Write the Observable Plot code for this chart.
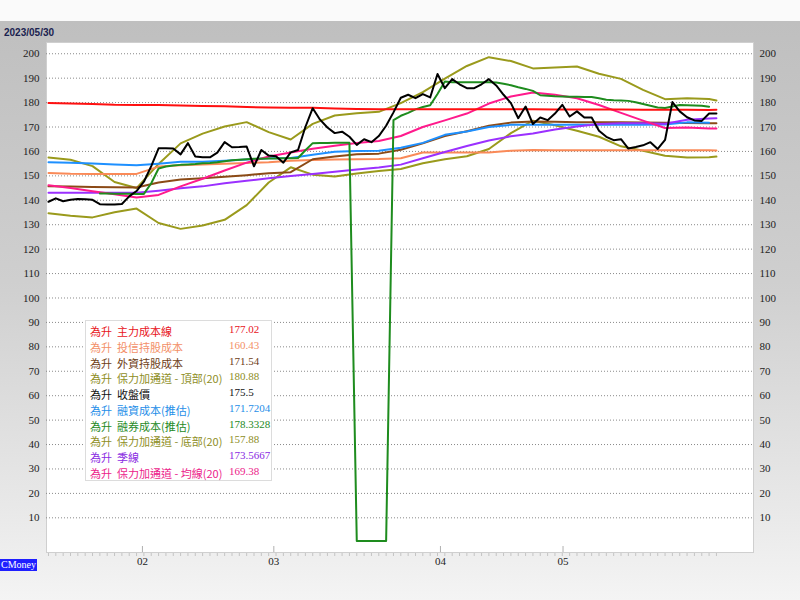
<!DOCTYPE html>
<html><head><meta charset="utf-8">
<script src="https://cdn.jsdelivr.net/npm/d3@7"></script>
<script src="https://cdn.jsdelivr.net/npm/@observablehq/plot@0.6"></script>
<style>
html,body{margin:0;padding:0;}
body{width:800px;height:600px;overflow:hidden;position:relative;background:#fafafa;}
#bg{position:absolute;left:0;top:21px;width:800px;height:579px;background:linear-gradient(to bottom,#bfbfbf 0%,#cfcfcf 45%,#e9e9e9 85%,#f4f4f4 100%);}
#date{position:absolute;left:4px;top:27px;font:bold 10px "Liberation Sans",Arial,sans-serif;color:#1b2350;}
#chart{position:absolute;left:0;top:0;}
#legend{position:absolute;left:85px;top:320px;width:187px;height:161px;background:#fff;border:1px solid #dcdcdc;box-sizing:border-box;padding-top:2px;}
.row{position:relative;height:15.75px;line-height:15.75px;font:11px "Noto Sans CJK TC",sans-serif;white-space:nowrap;}
.row span{position:absolute;top:0;}
.row .v{font-family:"Liberation Serif",serif;font-size:11px;}
#cmoney{position:absolute;left:0;top:559px;height:12px;line-height:12px;background:#1f1fff;color:#fff;font:10px "Liberation Serif",serif;padding:0 1px;}
</style>
</head><body>
<div id="bg"></div>
<div id="date">2023/05/30</div>
<div id="chart"></div>
<div id="legend"></div>
<div id="cmoney">CMoney</div>
<script>
// ---- data (trading-day index 0..91, ending 2023/05/30) ----
const monthTickAt = [12.8, 30.7, 53.4, 70.1];
const monthLabels = ["02", "03", "04", "05"];
const yTicks = [10,20,30,40,50,60,70,80,90,100,110,120,130,140,150,160,170,180,190,200];

// sampled every 3 trading days for the smooth series
const idx3 = [0,3,6,9,12,15,18,21,24,27,30,33,36,39,42,45,48,51,54,57,60,63,66,69,72,75,78,81,84,87,90,91];

const mainCost = [179.8,179.6,179.4,179.1,179.0,179.0,178.8,178.6,178.5,178.2,178.0,177.9,177.9,177.6,177.4,177.3,177.3,177.3,177.3,177.3,177.3,177.3,177.3,177.2,177.2,177.2,177.2,177.1,177.1,177.1,177.0,177.02];
const trustCost = [151.2,150.9,150.8,150.8,150.8,153.8,154.3,154.7,155.0,155.3,155.6,156.2,156.5,156.7,156.8,156.9,157.2,159.6,159.6,159.6,159.6,160.3,160.6,160.5,160.5,160.5,160.5,160.5,160.5,160.5,160.45,160.43];
const foreignCost = [145.7,145.6,145.4,145.3,145.2,147.3,148.5,149.0,149.6,150.3,151.1,151.5,156.8,157.9,158.8,159.1,160.7,163.3,166.3,168.3,170.5,171.8,172.3,172.2,172.0,172.0,171.9,171.8,171.7,171.6,171.5,171.54];
const bollTop = [157.5,156.6,154.0,147.5,145.0,154.9,163.3,167.3,170.2,172.0,167.9,164.9,171.3,174.7,175.6,176.2,179.8,184.3,189.8,195.0,198.6,197.0,194.0,194.4,194.8,191.8,189.7,185.2,181.4,181.8,181.5,180.88];
const marginCost = [155.6,155.4,155.1,154.7,154.3,155.0,155.8,155.8,156.2,156.7,157.2,157.3,158.6,159.9,160.2,160.3,161.5,163.5,166.8,168.2,170.0,170.9,170.9,170.9,170.9,170.9,170.9,170.9,171.0,171.9,171.72,null];
const bollBottom = [134.7,133.7,133.0,135.1,136.6,130.7,128.3,129.7,132.0,138.0,147.3,153.5,150.5,149.7,151.0,152.0,152.8,155.2,156.8,158.0,161.0,167.5,172.6,170.7,168.5,166.0,162.1,160.3,158.2,157.5,157.6,157.88];
const quarterLine = [143.1,143.1,143.1,143.1,143.1,143.9,144.9,145.7,147.0,148.0,149.0,149.9,150.8,151.7,152.6,153.4,154.6,157.2,159.8,162.2,164.5,166.2,167.3,169.0,170.2,171.2,171.5,171.5,171.3,173.0,173.5,173.57];
const bollMid = [146.2,145.0,143.7,142.5,141.1,142.2,145.7,148.8,152.2,155.4,157.9,159.6,161.1,162.3,163.5,164.3,166.3,170.0,172.7,175.5,179.6,182.5,184.1,183.2,181.8,179.0,175.8,172.6,169.6,169.8,169.4,169.38];

// daily series
const closePrice = [139.4,140.8,139.6,140.2,140.5,140.4,140.2,138.4,138.3,138.3,
 138.5,141.6,143.8,147.6,154.0,161.3,161.3,161.2,158.8,163.4,
 157.9,157.6,157.6,159.5,163.8,161.7,161.8,162.0,153.9,160.6,
 158.3,158.0,155.4,159.6,160.6,170.0,177.7,173.0,169.8,167.5,
 168.1,166.0,162.7,165.0,163.8,166.3,170.5,176.0,182.0,183.2,
 181.8,183.5,182.1,191.7,185.9,189.6,187.5,185.9,185.9,187.5,
 189.6,187.0,183.2,179.8,173.6,178.4,171.2,173.9,172.8,175.5,
 179.1,174.3,176.4,173.9,173.9,168.5,166.0,164.6,165.0,161.2,
 161.8,162.5,163.8,161.0,164.7,180.2,176.4,174.0,172.7,172.5,
 175.5,175.5];
const shortCost = [null,null,null,null,null,null,null,142.8,142.8,142.7,
 142.7,142.7,142.6,142.6,147.0,153.0,153.8,154.2,154.5,154.7,
 154.9,155.2,155.3,155.6,156.0,156.4,156.6,156.8,157.0,157.0,
 157.1,157.1,157.2,157.2,157.3,160.5,163.4,163.5,163.5,163.6,
 163.6,163.6,0.5,0.5,0.5,0.5,0.5,172.8,174.6,175.8,
 177.2,178.2,178.9,183.5,188.6,188.3,188.3,188.3,188.3,188.3,
 188.3,188.2,187.7,187.1,186.3,185.6,184.8,183.0,182.8,182.6,
 182.5,182.4,182.4,182.3,182.3,181.8,181.2,181.0,180.9,180.7,
 180.1,179.4,178.7,178.0,177.8,178.4,179.0,178.9,178.8,178.7,
 178.33,null];

// legend
const legendPrefix = "為升";
const legendNames = ["主力成本線","投信持股成本","外資持股成本","保力加通道 - 頂部(20)","收盤價","融資成本(推估)","融券成本(推估)","保力加通道 - 底部(20)","季線","保力加通道 - 均線(20)"];
const legendValues = ["177.02","160.43","171.54","180.88","175.5","171.7204","178.3328","157.88","173.5667","169.38"];
const legendColors = ["#e8141c","#f39068","#6e3e16","#8e8e1e","#111111","#1e8ee8","#1e8a1e","#8e8e1e","#8a2be2","#ec1c8a"];

// ---- build ----
const lineColors = {main:"#ff1010", trust:"#fa8a58", foreign:"#8b4a16", top:"#9a9a1c", close:"#000000", margin:"#1e90ff", short:"#1e8c1e", bottom:"#9a9a1c", quarter:"#9b30ff", mid:"#ff1a8c"};
const toRows3 = vals => idx3.map((x, i) => ({x, y: vals[i]}));
const toRowsDaily = vals => vals.map((y, x) => ({x, y}));
const dayIdx = d3.range(closePrice.length);

const series = [
  {rows: toRows3(bollBottom), c: lineColors.bottom},
  {rows: toRows3(bollTop), c: lineColors.top},
  {rows: toRows3(trustCost), c: lineColors.trust},
  {rows: toRows3(foreignCost), c: lineColors.foreign},
  {rows: toRows3(marginCost), c: lineColors.margin},
  {rows: toRows3(quarterLine), c: lineColors.quarter},
  {rows: toRows3(bollMid), c: lineColors.mid},
  {rows: toRowsDaily(shortCost), c: lineColors.short},
  {rows: toRows3(mainCost), c: lineColors.main},
  {rows: toRowsDaily(closePrice), c: lineColors.close}
];

const chart = Plot.plot({
  width: 800, height: 600,
  marginLeft: 46, marginRight: 47, marginTop: 42, marginBottom: 48,
  style: {background: "transparent", fontFamily: "'Liberation Serif', serif", fontSize: "11px", color: "#222"},
  x: {domain: [-0.27, 96.05], axis: null},
  y: {domain: [-4.2, 204.6], axis: null},
  marks: [
    Plot.frame({fill: "#ffffff", stroke: "#cfcfcf"}),
    Plot.gridY(yTicks, {stroke: "#8a8a8a", strokeOpacity: 1, strokeDasharray: "1,2"}),
    Plot.axisY(yTicks, {anchor: "left", tickSize: 0, tickPadding: 7, label: null}),
    Plot.axisY(yTicks, {anchor: "right", tickSize: 0, tickPadding: 6, label: null}),
    Plot.ruleX(dayIdx, {x: d => d, insetTop: 511, insetBottom: -4, stroke: "#c4c4c4"}),
    Plot.ruleX(monthTickAt, {x: d => d, insetTop: 504, stroke: "#b0b0b0"}),
    Plot.axisX(monthTickAt, {tickSize: 0, tickPadding: 5, label: null, tickFormat: d => monthLabels[monthTickAt.indexOf(d)]}),
    ...series.map(s => Plot.line(s.rows, {x: "x", y: "y", stroke: s.c, strokeWidth: 2}))
  ]
});
document.getElementById("chart").append(chart);

const lg = document.getElementById("legend");
legendNames.forEach((n, i) => {
  const r = document.createElement("div");
  r.className = "row";
  r.style.color = legendColors[i];
  r.innerHTML = `<span style="left:4px">${legendPrefix}</span><span style="left:31px">${n}</span><span class="v" style="left:143px">${legendValues[i]}</span>`;
  lg.append(r);
});
</script>
</body></html>
